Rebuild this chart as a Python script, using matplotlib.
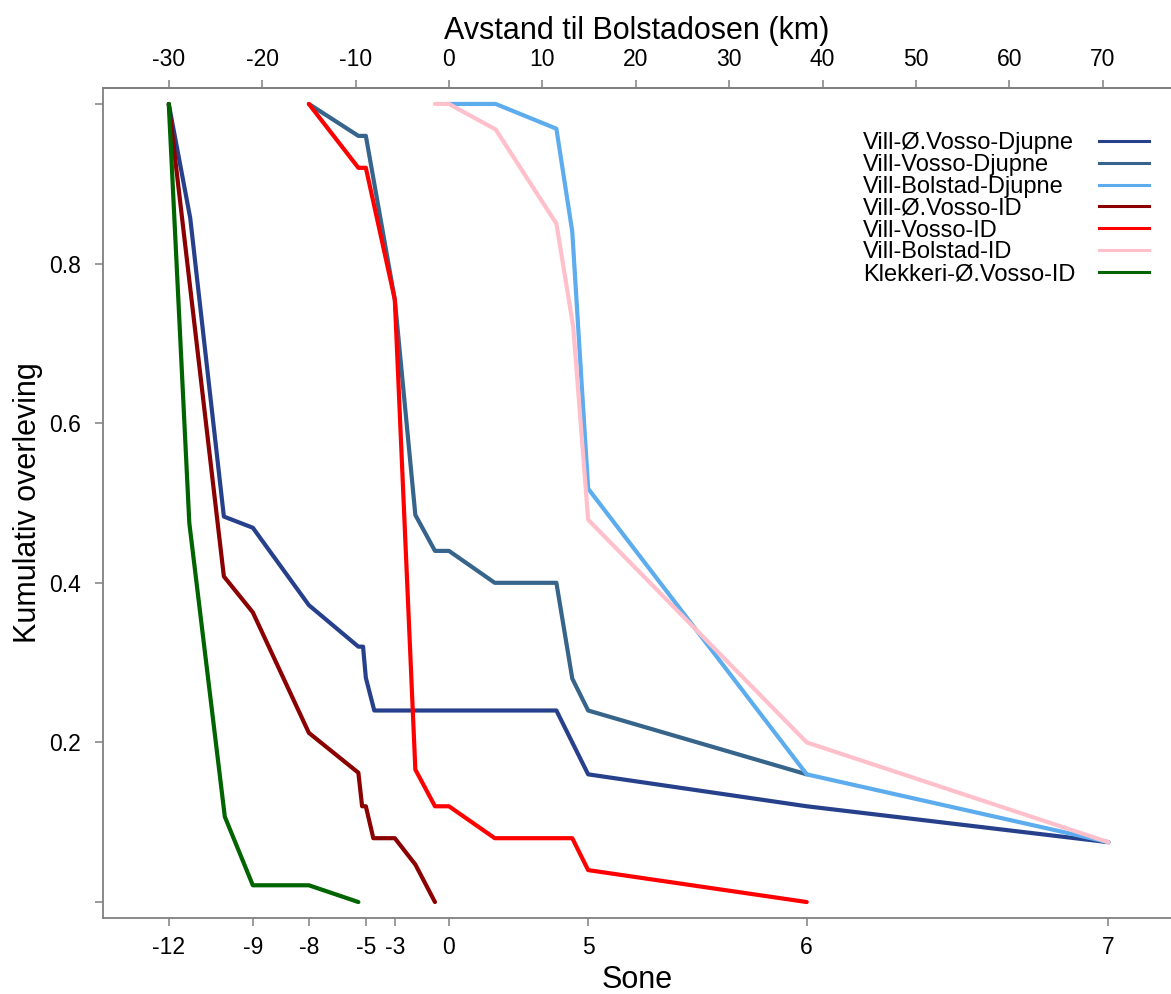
import matplotlib
matplotlib.use('Agg')
import matplotlib.pyplot as plt
from matplotlib.lines import Line2D

plt.rcParams['font.family'] = ['Liberation Sans', 'DejaVu Sans']
plt.rcParams['axes.unicode_minus'] = False

# zone ticks (bottom axis) placed at distance in km
zone_km = [-30, -21, -15, -8.9, -5.8, 0, 14.9, 38.3, 70.6]
zone_labels = ['-12', '-9', '-8', '-5', '-3', '0', '5', '6', '7']
dist_ticks = list(range(-30, 71, 10))

# survival per group (km from Bolstadosen, cumulative survival)
ovosso_djupne_km = [-30, -27.7, -24.1, -21.0, -15.0, -9.7, -9.2, -8.9, -8.0, 11.5, 13.2, 14.9, 38.3, 70.6]
ovosso_djupne_surv = [1.0, 0.857, 0.483, 0.469, 0.372, 0.320, 0.320, 0.281, 0.240, 0.240, 0.200, 0.160, 0.120, 0.075]

vosso_djupne_km = [-15.0, -9.7, -8.9, -5.8, -3.6, -1.5, 0, 4.9, 11.5, 13.2, 14.9, 38.3]
vosso_djupne_surv = [1.0, 0.960, 0.960, 0.755, 0.485, 0.440, 0.440, 0.400, 0.400, 0.280, 0.240, 0.160]

bolstad_djupne_km = [0, 5.0, 11.5, 13.2, 14.9, 38.3, 70.6]
bolstad_djupne_surv = [1.0, 1.0, 0.969, 0.840, 0.518, 0.160, 0.075]

ovosso_id_km = [-30, -24.1, -21.0, -15.0, -9.7, -9.3, -8.9, -8.1, -5.8, -3.6, -1.5]
ovosso_id_surv = [1.0, 0.408, 0.363, 0.212, 0.162, 0.120, 0.120, 0.080, 0.080, 0.047, 0.0]

vosso_id_km = [-15.0, -9.7, -8.9, -5.8, -3.6, -1.5, 0, 4.9, 13.2, 14.9, 38.3]
vosso_id_surv = [1.0, 0.920, 0.920, 0.755, 0.166, 0.120, 0.120, 0.080, 0.080, 0.040, 0.0]

bolstad_id_km = [-1.5, 0, 5.0, 11.5, 13.3, 14.9, 38.3, 70.6]
bolstad_id_surv = [1.0, 1.0, 0.968, 0.850, 0.721, 0.479, 0.200, 0.075]

klekkeri_km = [-30, -27.8, -24.0, -21.0, -15.0, -9.7]
klekkeri_surv = [1.0, 0.475, 0.107, 0.021, 0.021, 0.0]

names = ['Vill-Ø.Vosso-Djupne', 'Vill-Vosso-Djupne', 'Vill-Bolstad-Djupne',
         'Vill-Ø.Vosso-ID', 'Vill-Vosso-ID', 'Vill-Bolstad-ID', 'Klekkeri-Ø.Vosso-ID']
colors = ['#27408B', '#36648B', '#5CACEE', '#8B0000', '#FF0000', '#FFC0CB', '#006400']
xs = [ovosso_djupne_km, vosso_djupne_km, bolstad_djupne_km, ovosso_id_km,
      vosso_id_km, bolstad_id_km, klekkeri_km]
ys = [ovosso_djupne_surv, vosso_djupne_surv, bolstad_djupne_surv, ovosso_id_surv,
      vosso_id_surv, bolstad_id_surv, klekkeri_surv]

W, H = 1171, 994
fig = plt.figure(figsize=(W / 100, H / 100), dpi=100)
ax = fig.add_axes([103 / W, 76 / H, 1 - 103 / W, 830 / H])

for x, y, c in zip(xs, ys, colors):
    ax.plot(x, y, color=c, lw=3.0, solid_joinstyle='round', solid_capstyle='round')

ax.set_xlim(-37.04, 77.3)
ax.set_ylim(-0.02, 1.02)

axis_grey = '#808080'
for side in ['left', 'bottom', 'top']:
    ax.spines[side].set_color(axis_grey)
    ax.spines[side].set_linewidth(1.3)
ax.spines['right'].set_visible(False)

ax.set_yticks([0, 0.2, 0.4, 0.6, 0.8, 1.0])
ax.set_yticklabels(['', '0.2', '0.4', '0.6', '0.8', ''])
ax.set_xticks(zone_km)
ax.set_xticklabels(zone_labels)
ax.tick_params(axis='both', direction='out', length=6, width=1.1, color=axis_grey, labelsize=16.5)
ax.tick_params(axis='x', pad=7)
ax.tick_params(axis='y', pad=10)

top = ax.secondary_xaxis('top')
top.set_xticks(dist_ticks)
top.tick_params(direction='out', length=6, width=1.1, color=axis_grey, labelsize=16.5, pad=6)
top.spines['top'].set_color(axis_grey)
top.spines['top'].set_linewidth(1.3)
top.set_xlabel('Avstand til Bolstadosen (km)', fontsize=22, labelpad=7)

ax.set_xlabel('Sone', fontsize=22, labelpad=4)
ax.set_ylabel('Kumulativ overleving', fontsize=22, labelpad=4)

# legend: labels left-aligned, line keys on the right
for i, (name, c) in enumerate(zip(names, colors)):
    yy = 1 - (141 + i * 21.8) / H
    fig.text(863 / W, yy, name, fontsize=17, va='center_baseline', ha='left')
    fig.add_artist(Line2D([1099 / W, 1149 / W], [yy, yy], color=c, lw=2.2,
                          transform=fig.transFigure))

fig.savefig('out.png', dpi=100)
